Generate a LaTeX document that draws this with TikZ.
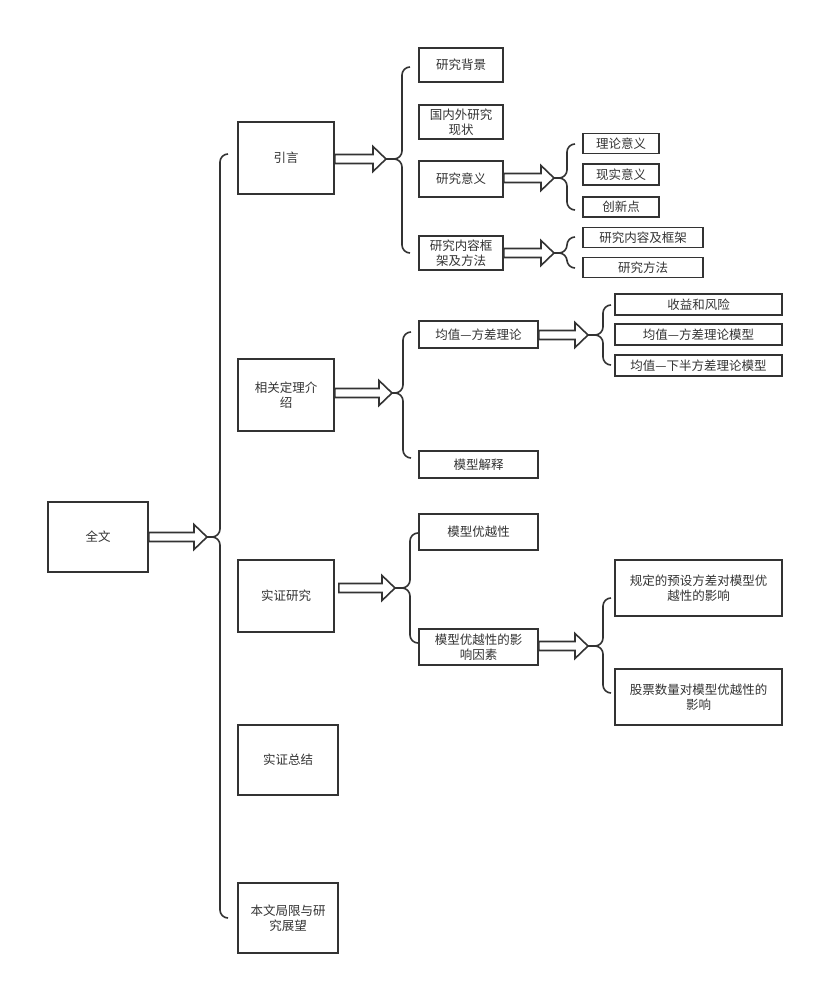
\documentclass[tikz,border=0pt]{standalone}
\usepackage{fontspec}
\setmainfont{Noto Sans CJK SC}
\usepackage{tikz}
\usetikzlibrary{calc}
\definecolor{ink}{HTML}{333333}
\tikzset{
  box/.style={rectangle,draw=ink,line width=1.6pt,fill=white,align=center,
    inner sep=1pt,text=ink,font=\fontsize{12.5}{14.5}\selectfont},
  lvzero/.style={box,minimum width=100pt,minimum height=70pt},
  lvone/.style={box,minimum width=96pt,minimum height=72pt},
  lvtwo/.style={box,minimum width=84pt,minimum height=34pt},
  lvthree/.style={box,minimum width=76pt,minimum height=20pt},
  brc/.style={draw=ink,line width=1.6pt,rounded corners=8pt},
  harrow/.style={draw=ink,line width=1.6pt,fill=white,line join=miter},
}
% brace: name, x, top, bottom, notch y, tip x
\newcommand{\drawbrace}[6]{%
  \coordinate (#1) at (#6,#5);
  \draw[brc] (#2+8,#3) -- (#2,#3) -- (#2,#5) -- (#1);
  \draw[brc] (#2+8,#4) -- (#2,#4) -- (#2,#5) -- (#1);}
% hollow block arrow: [gap], from node, to brace tip
\newcommand{\hollowarrow}[3][0]{%
  \draw[harrow] ($(#2.east |- #3)+(#1,-4.5)$) -- ($(#3)+(-13,-4.5)$)
    -- ($(#3)+(-13,-12.5)$) -- (#3) -- ($(#3)+(-13,12.5)$)
    -- ($(#3)+(-13,4.5)$) -- ($(#2.east |- #3)+(#1,4.5)$) -- cycle;}

\begin{document}
\begin{tikzpicture}[x=1pt,y=-1pt]
  \useasboundingbox (0,0) rectangle (814,984);
  % level 0 and 1
  \node[lvzero] (quanwen) at (98,537) {全文};
  \node[lvone] (yinyan) at (286,158) {引言};
  \node[lvone] (xiangguan) at (286,395) {相关定理介\\绍};
  \node[lvone] (shizheng) at (286,596) {实证研究};
  \node[lvzero] (zongjie) at (288,760) {实证总结};
  \node[lvzero] (juxian) at (288,918) {本文局限与研\\究展望};
  % 引言
  \node[lvtwo] (beijing) at (461,65) {研究背景};
  \node[lvtwo] (xianzhuang) at (461,122) {国内外研究\\现状};
  \node[lvtwo,minimum height=36pt] (yiyi) at (461,179) {研究意义};
  \node[lvtwo] (kuangjia) at (461,253) {研究内容框\\架及方法};
  \node[lvthree] (lilun) at (621,143.5) {理论意义};
  \node[lvthree,minimum height=21pt] (xianshi) at (621,174.5) {现实意义};
  \node[lvthree] (chuangxin) at (621,207) {创新点};
  \node[lvthree,minimum width=120pt] (neirong) at (643,237.5) {研究内容及框架};
  \node[lvthree,minimum width=120pt] (fangfa) at (643,267.5) {研究方法};
  % 相关定理介绍
  \node[box,minimum width=119pt,minimum height=27pt] (fangcha) at (478.5,334.5) {均值—方差理论};
  \node[box,minimum width=119pt,minimum height=27pt] (jieshi) at (478.5,464.5) {模型解释};
  \node[box,minimum width=167pt,minimum height=21pt] (shouyi) at (698.5,304.5) {收益和风险};
  \node[box,minimum width=167pt,minimum height=21pt] (moxinga) at (698.5,334.5) {均值—方差理论模型};
  \node[box,minimum width=167pt,minimum height=21pt] (moxingb) at (698.5,365.5) {均值—下半方差理论模型};
  % 实证研究
  \node[box,minimum width=119pt,minimum height=36pt] (youyue) at (478.5,532) {模型优越性};
  \node[box,minimum width=119pt,minimum height=36pt] (yinsu) at (478.5,647) {模型优越性的影\\响因素};
  \node[box,minimum width=167pt,minimum height=56pt] (guiding) at (698.5,588) {规定的预设方差对模型优\\越性的影响};
  \node[box,minimum width=167pt,minimum height=56pt] (gupiao) at (698.5,697) {股票数量对模型优越性的\\影响};
  % braces
  \drawbrace{bmain}{220}{154}{918}{537}{207}
  \drawbrace{byinyan}{402}{67}{253}{159}{386}
  \drawbrace{byiyi}{567}{144}{210}{178}{554}
  \drawbrace{bkuangjia}{567}{237}{268}{253}{554}
  \drawbrace{bxiangguan}{403}{332}{458}{393}{392}
  \drawbrace{bfangcha}{603}{305}{365}{335}{588}
  \drawbrace{bshizheng}{410}{533}{643}{588}{395}
  \drawbrace{byinsu}{603}{598}{693}{646}{588}
  % arrows
  \hollowarrow{quanwen}{bmain}
  \hollowarrow{yinyan}{byinyan}
  \hollowarrow{yiyi}{byiyi}
  \hollowarrow{kuangjia}{bkuangjia}
  \hollowarrow{xiangguan}{bxiangguan}
  \hollowarrow{fangcha}{bfangcha}
  \hollowarrow[4]{shizheng}{bshizheng}
  \hollowarrow{yinsu}{byinsu}
\end{tikzpicture}
\end{document}
